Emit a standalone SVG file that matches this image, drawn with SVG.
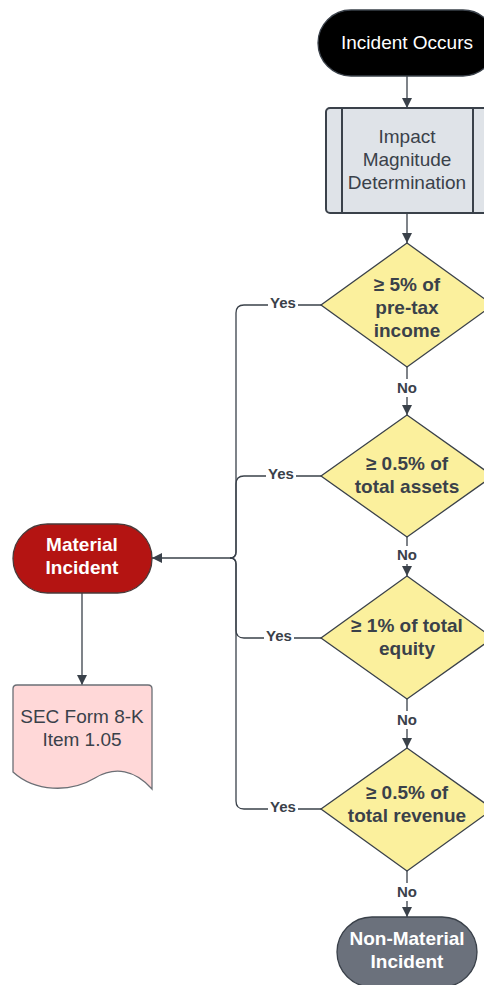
<svg xmlns="http://www.w3.org/2000/svg" width="484" height="985" viewBox="0 0 484 985">
  <style>
    .lbl { font-family: "Liberation Sans", Arial, sans-serif; text-anchor: middle; }
    .dec { fill: #fbf09d; stroke: #3a414a; stroke-width: 1.3; }
    .dec-t { font-size: 19px; font-weight: bold; fill: #3a414a; }
    .edge { fill: none; stroke: #3a414a; stroke-width: 1.3; }
    .edge-t { font-size: 15px; font-weight: bold; fill: #3a414a; }
  </style>
  <defs>
    <marker id="arrow" viewBox="0 0 10 10" refX="10" refY="5" markerWidth="10" markerHeight="10" markerUnits="userSpaceOnUse" orient="auto">
      <path d="M0,0 L10,5 L0,10 Z" fill="#3a414a"/>
    </marker>
  </defs>
  <rect width="484" height="985" fill="#ffffff"/>

  <!-- connectors -->
  <g id="connectors">
    <path class="edge" d="M407,76 V108" marker-end="url(#arrow)"/>
    <path class="edge" d="M407,213 V243" marker-end="url(#arrow)"/>
    <path class="edge" d="M407,367 V379 M407,397 V415" marker-end="url(#arrow)"/>
    <path class="edge" d="M407,537 V546 M407,564 V576" marker-end="url(#arrow)"/>
    <path class="edge" d="M407,699 V711 M407,729 V748" marker-end="url(#arrow)"/>
    <path class="edge" d="M407,871 V883 M407,901 V917" marker-end="url(#arrow)"/>
    <!-- Yes branches joining the shared trunk -->
    <path class="edge" d="M321,305 H298 M268,305 H244 Q236,305 236,313 V552 Q236,558 230,558 H152" marker-end="url(#arrow)"/>
    <path class="edge" d="M321,476 H296 M266,476 H244 Q236,476 236,484 V552 Q236,558 230,558"/>
    <path class="edge" d="M321,638 H294 M264,638 H244 Q236,638 236,630 V564 Q236,558 230,558"/>
    <path class="edge" d="M321,809 H298 M268,809 H244 Q236,809 236,801 V564 Q236,558 230,558"/>
    <path class="edge" d="M82,593 V685" marker-end="url(#arrow)"/>
    <text class="lbl edge-t" x="283" y="308">Yes</text>
    <text class="lbl edge-t" x="281" y="479">Yes</text>
    <text class="lbl edge-t" x="279" y="641">Yes</text>
    <text class="lbl edge-t" x="283" y="812">Yes</text>
    <text class="lbl edge-t" x="407" y="393">No</text>
    <text class="lbl edge-t" x="407" y="560">No</text>
    <text class="lbl edge-t" x="407" y="725">No</text>
    <text class="lbl edge-t" x="407" y="897">No</text>
  </g>

  <g id="incident-occurs">
    <rect x="318" y="10" width="178" height="66" rx="33" fill="#000000" stroke="#3a414a" stroke-width="1.3"/>
    <text class="lbl" x="407" y="49" font-size="19" fill="#ffffff">Incident Occurs</text>
  </g>

  <g id="impact-magnitude">
    <rect x="326" y="108" width="162" height="105" rx="4" fill="#dfe3e8" stroke="#3a414a" stroke-width="2"/>
    <line x1="342" y1="108" x2="342" y2="213" stroke="#3a414a" stroke-width="2"/>
    <line x1="473" y1="108" x2="473" y2="213" stroke="#3a414a" stroke-width="2"/>
    <text class="lbl" font-size="19" fill="#3a414a"><tspan x="407" y="143">Impact</tspan><tspan x="407" y="166">Magnitude</tspan><tspan x="407" y="189">Determination</tspan></text>
  </g>

  <g id="pretax-income">
    <polygon class="dec" points="407,243 493,305 407,367 321,305"/>
    <text class="lbl dec-t"><tspan x="407" y="291">≥ 5% of</tspan><tspan x="407" y="314">pre-tax</tspan><tspan x="407" y="337">income</tspan></text>
  </g>

  <g id="total-assets">
    <polygon class="dec" points="407,415 493,476 407,537 321,476"/>
    <text class="lbl dec-t"><tspan x="407" y="470">≥ 0.5% of</tspan><tspan x="407" y="493">total assets</tspan></text>
  </g>

  <g id="total-equity">
    <polygon class="dec" points="407,576 493,638 407,699 321,638"/>
    <text class="lbl dec-t"><tspan x="407" y="632">≥ 1% of total</tspan><tspan x="407" y="655">equity</tspan></text>
  </g>

  <g id="total-revenue">
    <polygon class="dec" points="407,748 493,809 407,871 321,809"/>
    <text class="lbl dec-t"><tspan x="407" y="799">≥ 0.5% of</tspan><tspan x="407" y="822">total revenue</tspan></text>
  </g>

  <g id="material-incident">
    <rect x="13" y="524" width="139" height="69" rx="34.5" fill="#b41412" stroke="#4a3a3a" stroke-width="1.3"/>
    <text class="lbl" font-size="19" font-weight="bold" fill="#ffffff"><tspan x="82" y="551">Material</tspan><tspan x="82" y="574">Incident</tspan></text>
  </g>

  <g id="sec-form">
    <path d="M17,685 H148 Q152,685 152,689 V789 C135,770 115,766 95,778 C70,793 35,792 13,772 V689 Q13,685 17,685 Z" fill="#ffd8d8" stroke="#6b6f75" stroke-width="1.3"/>
    <text class="lbl" font-size="19" fill="#3a414a"><tspan x="82" y="723">SEC Form 8-K</tspan><tspan x="82" y="746">Item 1.05</tspan></text>
  </g>

  <g id="non-material-incident">
    <rect x="337" y="917" width="140" height="70" rx="35" fill="#6b717c" stroke="#3a414a" stroke-width="1.3"/>
    <text class="lbl" font-size="19" font-weight="bold" fill="#ffffff"><tspan x="407" y="945">Non-Material</tspan><tspan x="407" y="968">Incident</tspan></text>
  </g>
</svg>
